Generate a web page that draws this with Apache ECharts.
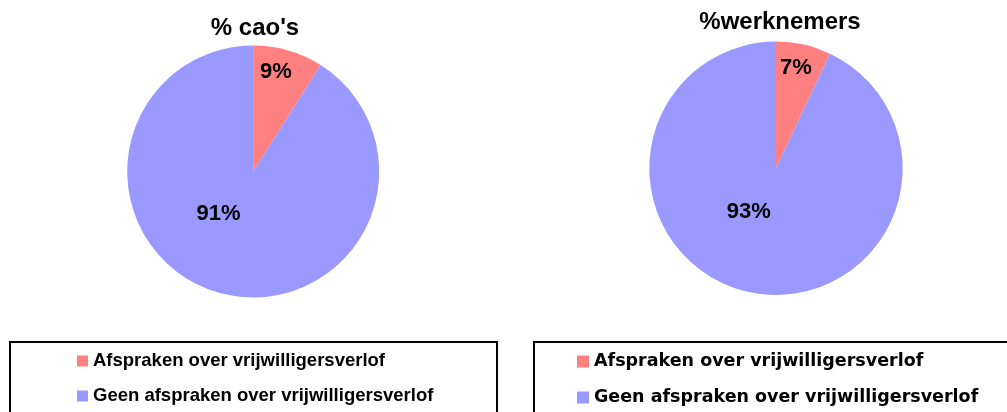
<!DOCTYPE html>
<html>
<head>
<meta charset="utf-8">
<script src="https://cdn.jsdelivr.net/npm/echarts@6/dist/echarts.min.js"></script>
<style>
html,body{margin:0;padding:0;background:#fff;}
#chart{width:1007px;height:412px;}
</style>
</head>
<body>
<div id="chart"></div>
<script>
// ---- data ----
const categories = ['Afspraken over vrijwilligersverlof', 'Geen afspraken over vrijwilligersverlof'];
const titles = ["% cao's", '%werknemers'];
const caoValues = [9, 91];
const werknemersValues = [7, 93];

// ---- styles / layout ----
const colors = ['#FF8080', '#9999FF'];
const FONT = 'Liberation Sans, Arial, sans-serif';
const labelFont = { color: '#000', fontSize: 22, fontWeight: 'bold', fontFamily: FONT };
// label placement (Excel-like): per item a ring radius and an angle offset
const pies = [
  { center: [253.2, 171.5], r: 126, values: caoValues,
    labelPlace: [{ startAngle: 93.4, radius: [86, 112.2] }, { startAngle: 67.3, radius: [40, 64.2] }] },
  { center: [776, 168.3], r: 126.7, values: werknemersValues,
    labelPlace: [{ startAngle: 91.4, radius: [87, 112.6] }, { startAngle: 70.9, radius: [40, 57.4] }] }
];

const series = [];
pies.forEach(p => {
  series.push({
    type: 'pie', center: p.center, radius: [0, p.r], startAngle: 90, clockwise: true,
    silent: true, label: { show: false }, labelLine: { show: false },
    itemStyle: { borderWidth: 0 },
    data: p.values.map((v, i) => ({ value: v, name: categories[i] }))
  });
});
pies.forEach(p => {
  p.labelPlace.forEach((lp, k) => {
    series.push({
      type: 'pie', center: p.center, radius: lp.radius, startAngle: lp.startAngle, clockwise: true,
      silent: true, avoidLabelOverlap: false, z: 5,
      itemStyle: { color: 'rgba(0,0,0,0)', borderWidth: 0 },
      labelLine: { show: false },
      data: p.values.map((v, i) => ({
        value: v, name: categories[i],
        label: Object.assign({ show: i === k, position: 'inside', formatter: '{c}%' }, labelFont)
      }))
    });
  });
});

const chart = echarts.init(document.getElementById('chart'), null, { renderer: 'canvas' });
chart.setOption({
  animation: false,
  color: colors,
  title: [
    { text: titles[0], left: 255, top: 16, textAlign: 'center', padding: 0,
      textStyle: { fontSize: 24, fontWeight: 'bold', color: '#000', fontFamily: FONT } },
    { text: titles[1], left: 780, top: 10, textAlign: 'center', padding: 0,
      textStyle: { fontSize: 24, fontWeight: 'bold', color: '#000', fontFamily: FONT } }
  ],
  legend: [
    { data: categories, orient: 'vertical', left: 77, top: 351, padding: 0,
      itemWidth: 11, itemHeight: 11, itemGap: 15, icon: 'rect', selectedMode: false,
      textStyle: { fontSize: 18.5, fontWeight: 'bold', color: '#000', lineHeight: 20, fontFamily: FONT } },
    { data: categories, orient: 'vertical', left: 577, top: 351, padding: 0,
      itemWidth: 12, itemHeight: 12, itemGap: 15, icon: 'rect', selectedMode: false,
      textStyle: { fontSize: 17.5, fontWeight: 'bold', color: '#000', lineHeight: 21, fontFamily: 'DejaVu Sans, sans-serif' } }
  ],
  graphic: [
    { type: 'rect', shape: { x: 10, y: 342, width: 487, height: 120 }, style: { fill: 'none', stroke: '#000', lineWidth: 2 }, silent: true },
    { type: 'rect', shape: { x: 534, y: 342, width: 520, height: 120 }, style: { fill: 'none', stroke: '#000', lineWidth: 2 }, silent: true }
  ],
  series: series
});
</script>
</body>
</html>
